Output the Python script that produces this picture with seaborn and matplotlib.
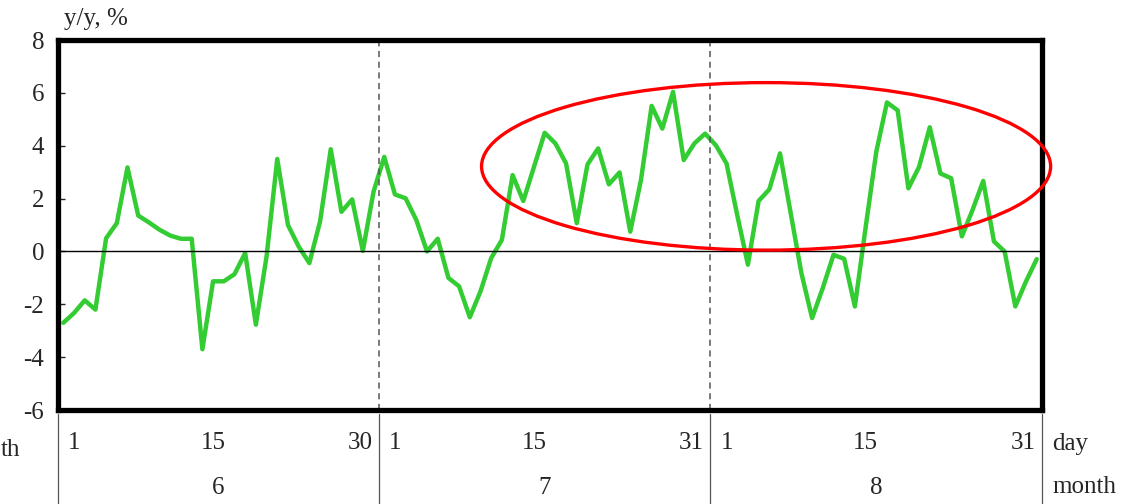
import numpy as np
import pandas as pd
import seaborn as sns
import matplotlib.pyplot as plt
from matplotlib.patches import Ellipse
import matplotlib.transforms as mtrans

# datos (y/y, %)
june = [-2.7, -2.33, -1.85, -2.2, 0.5, 1.07, 3.18, 1.36, 1.1, 0.82, 0.6, 0.48, 0.48,
        -3.7, -1.13, -1.13, -0.86, -0.06, -2.77, -0.19, 3.5, 1.0, 0.19, -0.44, 1.13,
        3.87, 1.5, 1.97, 0.02, 2.26]
july = [3.58, 2.16, 2.01, 1.19, 0.0, 0.48, -1.0, -1.32, -2.49, -1.51, -0.25, 0.44,
        2.89, 1.91, 3.2, 4.49, 4.09, 3.33, 1.07, 3.29, 3.9, 2.54, 2.99, 0.75, 2.7,
        5.51, 4.65, 6.04, 3.46, 4.09, 4.46]
aug = [4.02, 3.33, 1.38, -0.5, 1.91, 2.35, 3.71, 1.45, -0.82, -2.52, -1.38, -0.13,
       -0.28, -2.08, 0.9, 3.77, 5.64, 5.34, 2.39, 3.2, 4.7, 2.95, 2.77, 0.57, 1.57,
       2.67, 0.38, 0.0, -2.08, -1.13, -0.29]

months = ["6", "7", "8"]
month_data = [june, july, aug]
yticks = [-6, -4, -2, 0, 2, 4, 6, 8]

rows = []
for m, vals in zip(months, month_data):
    for d, v in enumerate(vals, start=1):
        rows.append([m, d, v])
df = pd.DataFrame(rows, columns=["month", "day", "value"])
df["idx"] = np.arange(len(df))

sns.set_style("white")
plt.rcParams['font.family'] = ['Liberation Serif', 'DejaVu Serif']
FS = 18

fig = plt.figure(figsize=(11.39, 5.04), dpi=100)
ax = fig.add_axes([0.0509, 0.1865, 0.864, 0.734])

sns.lineplot(data=df, x="idx", y="value", color="#33CC33", linewidth=3.2, ax=ax)

ax.axhline(0, color="black", linewidth=1)

# separadores de mes
lens = [len(v) for v in month_data]
bounds = np.cumsum(lens)
for b in bounds[:-1]:
    ax.axvline(b - 0.5, color="#555555", linestyle=(0, (4, 3)), linewidth=1.1)

# elipse
ax.add_patch(Ellipse((65.7, 3.22), 53.2, 6.34, fill=False, edgecolor="red",
                     linewidth=2.4, clip_on=False, zorder=5))

ax.set_xlim(-0.5, len(df) - 0.5)
ax.set_ylim(-6, 8)
ax.set_yticks(yticks)
ax.set_yticklabels([str(t) for t in yticks], fontsize=FS)
ax.set_xticks([])
ax.set_xlabel("")
ax.set_ylabel("")
ax.tick_params(axis="y", direction="in", length=5, width=1, pad=10, left=True)

for s in ax.spines.values():
    s.set_linewidth(3.8)
    s.set_color("black")

# etiquetas de dias y meses
trans = mtrans.blended_transform_factory(ax.transData, ax.transAxes)
start = 0
for m, n in zip(months, lens):
    ax.text(start + 0.45, -0.09, "1", transform=trans, ha="left", va="center", fontsize=FS)
    ax.text(start + 14, -0.09, "15", transform=trans, ha="center", va="center", fontsize=FS)
    ax.text(start + n - 1 - 0.1, -0.09, str(n), transform=trans, ha="right", va="center", fontsize=FS)
    ax.text(start + (n - 1) / 2, -0.21, m, transform=trans, ha="center", va="center", fontsize=FS)
    start += n

for b in [-0.5] + list(bounds - 0.5):
    ax.plot([b, b], [-0.01, -0.26], transform=trans, color="#555555", linewidth=0.9, clip_on=False)

fig.text(1052 / 1139, 1 - 444 / 504, "day", ha="left", va="center", fontsize=FS)
fig.text(1052 / 1139, 1 - 487 / 504, "month", ha="left", va="center", fontsize=FS)
fig.text(1 / 1139, 1 - 450 / 504, "th", ha="left", va="center", fontsize=FS)
fig.text(64 / 1139, 1 - 19 / 504, "y/y, %", ha="left", va="center", fontsize=FS)

fig.savefig("out.png", dpi=100)
